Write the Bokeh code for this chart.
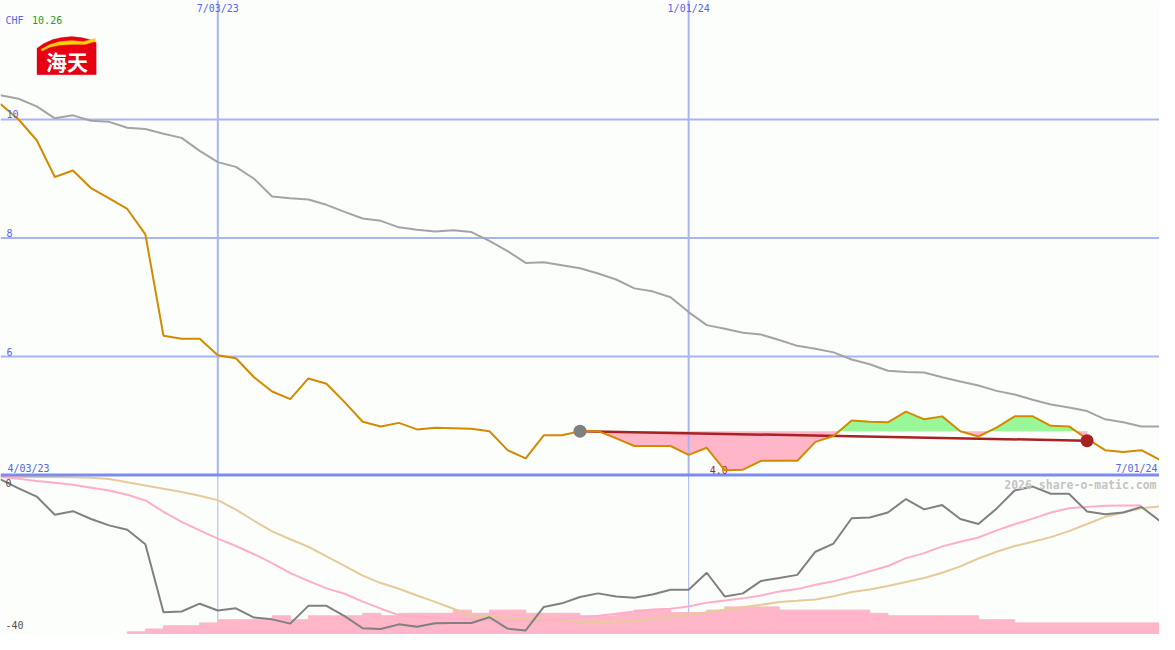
import numpy as np
import pandas as pd
from bokeh.plotting import figure
from bokeh.models import Range1d, Label, PolyAnnotation
from bokeh.core.properties import value
from bokeh.embed import file_html
from bokeh.resources import INLINE

# ---------------- data ----------------
dates = pd.date_range("2023-04-10", periods=65, freq="7D")

price = [10.26, 10.00, 9.65, 9.03, 9.14, 8.84, 8.67, 8.49, 8.06, 6.35,
         6.30, 6.30, 6.02, 5.97, 5.65, 5.41, 5.28, 5.63, 5.54, 5.23,
         4.90, 4.82, 4.88, 4.77, 4.80, 4.79, 4.78, 4.74, 4.42, 4.28,
         4.67, 4.67, 4.74, 4.74, 4.62, 4.49, 4.49, 4.49, 4.34, 4.46,
         4.08, 4.09, 4.24, 4.24, 4.24, 4.56, 4.66, 4.92, 4.90, 4.89,
         5.07, 4.94, 4.99, 4.74, 4.65, 4.80, 4.99, 4.99, 4.83, 4.82,
         4.61, 4.42, 4.39, 4.42, 4.26]

moving_avg = [10.41, 10.35, 10.22, 10.02, 10.07, 9.98, 9.96, 9.86, 9.84, 9.76,
              9.69, 9.47, 9.28, 9.20, 9.00, 8.70, 8.67, 8.65, 8.56, 8.44,
              8.33, 8.29, 8.18, 8.14, 8.11, 8.13, 8.10, 7.95, 7.78, 7.58,
              7.59, 7.54, 7.49, 7.40, 7.30, 7.15, 7.10, 7.00, 6.75, 6.53,
              6.47, 6.40, 6.37, 6.28, 6.18, 6.13, 6.07, 5.95, 5.87, 5.76,
              5.74, 5.73, 5.65, 5.58, 5.51, 5.42, 5.36, 5.27, 5.19, 5.14,
              5.08, 4.94, 4.89, 4.82, 4.82]

perf_gray = [-0.7, -3.2, -5.5, -10.6, -9.6, -11.8, -13.6, -14.8, -18.9, -38.0,
             -37.8, -35.6, -37.5, -36.9, -39.5, -40.0, -41.2, -36.2, -36.2, -39.1,
             -42.5, -42.7, -41.4, -42.1, -41.1, -41.0, -41.0, -39.4, -42.6, -43.1,
             -36.5, -35.5, -33.7, -32.7, -33.6, -33.9, -33.0, -31.7, -31.7, -26.9,
             -33.6, -32.7, -29.2, -28.4, -27.5, -21.0, -18.7, -11.6, -11.4, -10.0,
             -6.2, -9.1, -7.9, -11.8, -13.2, -8.9, -3.8, -2.7, -4.7, -4.7,
             -9.7, -10.5, -10.0, -8.4, -12.3]

perf_pink = [0.0, -0.5, -1.1, -1.6, -2.2, -3.0, -3.8, -5.0, -6.6, -9.8,
             -12.6, -15.0, -17.3, -19.4, -21.7, -24.2, -27.0, -29.2, -31.3, -32.8,
             -35.0, -37.0, -38.8, -39.2, -39.5, -39.8, -40.0, -40.3, -40.5, -40.5,
             -40.3, -40.0, -39.5, -39.0, -38.4, -37.8, -37.2, -37.0, -36.4, -35.3,
             -34.7, -34.1, -33.3, -32.2, -31.5, -30.3, -29.3, -28.0, -26.5, -25.0,
             -22.8, -21.4, -19.5, -18.2, -17.0, -15.0, -13.3, -11.7, -10.0, -8.8,
             -8.4, -8.1, -8.0, -8.0, np.nan]

perf_tan = [0.0, 0.0, 0.0, 0.0, -0.1, -0.2, -0.6, -1.5, -2.4, -3.3,
            -4.2, -5.3, -6.5, -9.2, -12.3, -15.3, -17.5, -19.6, -22.3, -25.0,
            -27.7, -29.8, -31.4, -33.3, -35.1, -37.0, -39.0, -39.3, -39.6, -39.8,
            -40.1, -40.4, -40.7, -40.8, -40.6, -40.3, -39.9, -39.3, -38.7, -38.0,
            -37.3, -36.6, -35.9, -35.1, -34.8, -34.4, -33.5, -32.3, -31.6, -30.6,
            -29.5, -28.4, -26.9, -25.1, -22.9, -21.0, -19.4, -18.2, -16.9, -15.2,
            -13.2, -11.2, -10.0, -8.8, -8.3]

# bar tops for the weekly intervals starting at week index bar_first
bar_first = 7
bar_tops = [-43.5, -42.7, -41.8, -41.8, -41.0,
            -40.1, -40.1, -40.1, -39.0, -40.1,
            -39.0, -39.0, -39.0, -38.3, -39.0,
            -38.3, -38.3, -38.3, -37.4, -38.3,
            -37.4, -37.4, -38.3, -38.3, -38.3,
            -39.0, -39.0, -38.3, -37.4, -37.4,
            -38.1, -38.1, -37.4, -36.5, -36.5,
            -36.5, -37.4, -37.4, -37.4, -37.4,
            -37.4, -38.3, -39.0, -39.0, -39.0,
            -39.0, -39.0, -40.1, -40.1,
            -41.0, -41.0, -41.0, -41.0, -41.0, -41.0, -41.0, -41.0]

ref_idx = [32, 60]
ref_vals = [4.74, 4.58]

currency = "CHF"
quote_label = "10.26"
price_ticks = [10, 8, 6]
date_ticks = ["2023-07-03", "2024-01-01"]
date_tick_labels = ["7/03/23", "1/01/24"]
start_label = "4/03/23"
end_label = "7/01/24"
perf_ticks = [0, -40]
min_label = "4.0"
credit = "2026 share-o-matic.com"
logo_text = "海天"

# ---------------- styling / layout ----------------
W, H = 1159, 634
SX, SY = W / 1175.0, H / 650.0
def sx(v):
    return v * SX
def sy(v):
    return (650 - v) * SY

BG = "#fcfefc"
GRID = "#a9b5f2"
SEP = "#7b8bf0"
LBL = "#5565ee"
BAR = "#ffb6c8"
MONO = "DejaVu Sans Mono"

x = dates.values.astype("datetime64[ms]").astype("int64").astype(float)
xt = pd.to_datetime(date_ticks).values.astype("datetime64[ms]").astype("int64").astype(float)

TOP_LO, TOP_HI = 1.309, 12.008
BOT_LO, BOT_HI = -44.25, 133.84
TOP_BASE = 4.0

p = figure(width=W, height=H, output_backend="svg", toolbar_location=None,
           x_axis_type=None, y_axis_type=None,
           x_range=Range1d(x[0], x[-1]), y_range=Range1d(BOT_LO, BOT_HI),
           min_border=0, min_border_left=0, min_border_right=0,
           min_border_top=0, min_border_bottom=0,
           background_fill_color=BG, border_fill_color=BG,
           outline_line_color=None)
p.extra_y_ranges = {"top": Range1d(TOP_LO, TOP_HI)}

# ---------------- fills between price and reference level ----------------
base = price[ref_idx[0]]
fx, fp = [], []
for i in range(ref_idx[0], ref_idx[1]):
    x0, x1, p0, p1 = x[i], x[i + 1], price[i], price[i + 1]
    fx.append(x0); fp.append(p0)
    if (p0 - base) * (p1 - base) < 0:
        t = (base - p0) / (p1 - p0)
        fx.append(x0 + t * (x1 - x0)); fp.append(base)
fx.append(x[ref_idx[1]]); fp.append(price[ref_idx[1]])
fx = np.array(fx); fp = np.array(fp)
p.varea(x=fx, y1=np.minimum(fp, base), y2=np.full(len(fx), base),
        fill_color=BAR, y_range_name="top")
p.varea(x=fx, y1=np.full(len(fx), base), y2=np.maximum(fp, base),
        fill_color="#98f898", y_range_name="top")

# ---------------- grid ----------------
p.segment(x0=[x[0]] * len(price_ticks), x1=[x[-1]] * len(price_ticks),
          y0=price_ticks, y1=price_ticks, line_color=GRID, line_width=2,
          y_range_name="top")
p.segment(x0=xt, x1=xt, y0=[TOP_BASE] * len(xt), y1=[TOP_HI + 1] * len(xt),
          line_color=GRID, line_width=2, y_range_name="top")
p.segment(x0=xt, x1=xt, y0=[0.4] * len(xt), y1=[BOT_LO] * len(xt),
          line_color=GRID, line_width=1)

# ---------------- bottom panel ----------------
nb = len(bar_tops)
p.quad(left=x[bar_first:bar_first + nb], right=x[bar_first + 1:bar_first + nb + 1],
       bottom=[BOT_LO - 1] * nb, top=bar_tops,
       fill_color=BAR, line_color=BAR, line_width=1)
p.line(x, perf_tan, line_color="#e6cb98", line_width=2)
p.line(x, perf_pink, line_color="#ffaec8", line_width=2)
p.line(x, perf_gray, line_color="#808080", line_width=2)

# separator
p.segment(x0=[x[0]], x1=[x[-1]], y0=[TOP_BASE], y1=[TOP_BASE],
          line_color=SEP, line_width=3, y_range_name="top")

# ---------------- top panel ----------------
p.line(x, moving_avg, line_color="#a4a4a4", line_width=2, y_range_name="top")
imin = int(np.argmin(price))
p.text(x=[x[imin]], y=[price[imin]], text=[min_label], y_range_name="top",
       text_font=value(MONO), text_font_size="10px", text_color="#a82020",
       text_align="right", text_baseline="middle", x_offset=3)
p.line([x[i] for i in ref_idx], ref_vals, line_color="#a82222", line_width=2.5,
       y_range_name="top")
p.line(x, price, line_color="#d48a00", line_width=2, y_range_name="top")
p.scatter([x[ref_idx[0]]], [price[ref_idx[0]]], size=13, fill_color="#808080",
          line_color=None, y_range_name="top")
p.scatter([x[ref_idx[1]]], [ref_vals[1]], size=13, fill_color="#a82222",
          line_color=None, y_range_name="top")

# ---------------- labels ----------------
def lab(text, xx, yy, color, align="left", size="10px", style="normal",
        xu="screen", yu="screen", **kw):
    p.add_layout(Label(x=xx, y=yy, x_units=xu, y_units=yu, text=text,
                       text_color=color, text_font=MONO, text_font_size=size,
                       text_font_style=style, text_align=align,
                       text_baseline="middle", **kw))

lab(currency, sx(5), sy(20), LBL)
lab(quote_label, sx(32), sy(20), "#22a022")
for v in price_ticks:
    p.add_layout(Label(x=sx(6), x_units="screen", y=v, y_range_name="top",
                       text=str(v), text_color=LBL, text_font=MONO,
                       text_font_size="10px", text_baseline="bottom",
                       y_offset=1))
for xv, t in zip(xt, date_tick_labels):
    lab(t, xv, sy(8), LBL, align="center", xu="data")
lab(start_label, sx(7), sy(480), LBL)
lab(end_label, sx(1173), sy(480), LBL, align="right")
for v in perf_ticks:
    p.add_layout(Label(x=sx(5), x_units="screen", y=v,
                       text=str(v), text_color="#505050", text_font=MONO,
                       text_font_size="10px", text_baseline="top",
                       y_offset=-2))
lab(credit, sx(1172), sy(497), "#c4c4c4", align="right", size="11.5px",
    style="bold")

# ---------------- logo ----------------
red_pts = [(37, 76), (37, 49), (44, 44), (53, 40), (62, 38), (72, 37),
           (82, 38), (90, 40), (97, 43), (97, 76)]
p.add_layout(PolyAnnotation(xs=[sx(a) for a, b in red_pts],
                            ys=[sy(b) for a, b in red_pts],
                            xs_units="screen", ys_units="screen",
                            fill_color="#e60012", fill_alpha=1.0,
                            line_color="#e60012", line_width=1))
sw_pts = [(41, 50), (50, 45), (60, 42), (72, 41), (84, 42), (96, 39),
          (96, 42), (86, 45), (72, 45), (60, 46), (50, 48), (42, 52)]
p.add_layout(PolyAnnotation(xs=[sx(a) for a, b in sw_pts],
                            ys=[sy(b) for a, b in sw_pts],
                            xs_units="screen", ys_units="screen",
                            fill_color="#ffd200", fill_alpha=1.0,
                            line_color="#f5a000", line_width=1))
p.add_layout(Label(x=sx(67.5), y=sy(62), x_units="screen", y_units="screen",
                   text=logo_text, text_color="white",
                   text_font="Noto Sans CJK SC", text_font_size="21px",
                   text_font_style="bold", text_align="center",
                   text_baseline="middle"))

open("out.html", "w").write(file_html(p, INLINE))
